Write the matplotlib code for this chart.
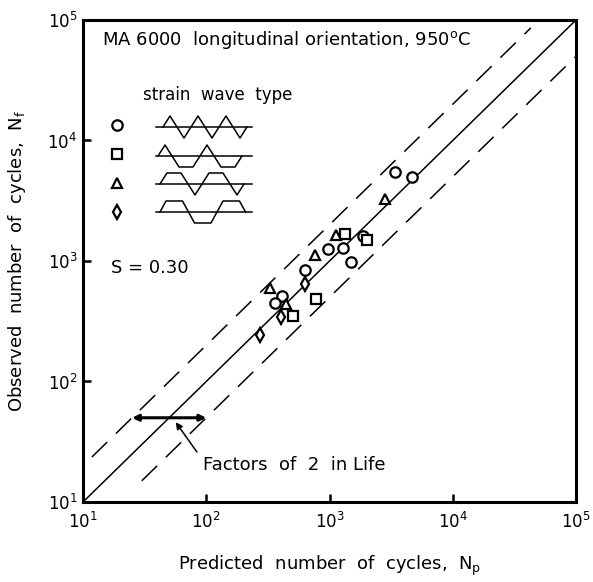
import matplotlib
matplotlib.use("Agg")
import matplotlib.pyplot as plt
import numpy as np

# ---------------- data ----------------
circle_np = [3400, 4700, 1860, 980, 1290, 1490, 630, 410, 360]
circle_nf = [5500, 4950, 1620, 1260, 1270, 990, 840, 510, 445]
square_np = [1340, 2030, 770, 510]
square_nf = [1670, 1490, 480, 350]
tri_np = [2820, 1130, 760, 330, 445]
tri_nf = [3250, 1640, 1120, 600, 440]
dia_np = [630, 405, 275]
dia_nf = [650, 345, 245]

x_range = [10, 1e5]
factor = 2
upper_span = [11.8, 43000]
lower_span = [30, 1e5]
tick_vals = [1e1, 1e2, 1e3, 1e4, 1e5]

title_text = "MA 6000  longitudinal orientation, 950$^\\mathrm{o}$C"
legend_title = "strain  wave  type"
s_text = "S = 0.30"
note_text = "Factors  of  2  in Life"
xlabel_text = "Predicted  number  of  cycles,  N$_\\mathrm{p}$"
ylabel_text = "Observed  number  of  cycles,  N$_\\mathrm{f}$"

plt.rcParams['font.family'] = ['DejaVu Sans']
plt.rcParams['mathtext.fontset'] = 'dejavusans'

W, H = 593, 582
fig = plt.figure(figsize=(W / 100, H / 100), dpi=100)
L, R, T, B = 83, 576, 20, 502
ax = fig.add_axes([L / W, (H - B) / H, (R - L) / W, (B - T) / H])
ax.set_xscale('log')
ax.set_yscale('log')
ax.set_xlim(x_range)
ax.set_ylim(x_range)
ax.set_xticks(tick_vals)
ax.set_yticks(tick_vals)
ax.minorticks_off()
ax.tick_params(which='major', direction='in', length=6, width=1.8,
               labelsize=12, top=False, right=False)
ax.tick_params(axis='x', pad=7)
ax.tick_params(axis='y', pad=4)
for sp in ax.spines.values():
    sp.set_linewidth(2.2)

# reference lines
xs = np.array(x_range)
ax.plot(xs, xs, color='k', lw=1.1, zorder=2)
ux = np.array(upper_span)
ax.plot(ux, ux * factor, color='k', lw=1.1, dashes=(14, 8), zorder=2)
lx = np.array(lower_span)
ax.plot(lx, lx / factor, color='k', lw=1.1, dashes=(14, 8), zorder=2)

mk = dict(linestyle='none', markerfacecolor='white', markeredgecolor='k',
          markeredgewidth=1.6, zorder=4, clip_on=False)
ax.plot(circle_np, circle_nf, marker='o', markersize=7.5, **mk)
ax.plot(square_np, square_nf, marker='s', markersize=7.0, **mk)
ax.plot(tri_np, tri_nf, marker='^', markersize=7.5, **mk)
ax.plot(dia_np, dia_nf, marker='d', markersize=6.8, **mk)


def px2ax(px, py):
    return (np.asarray(px) - L) / (R - L), (B - np.asarray(py)) / (B - T)


# legend: markers + wave shapes
leg_y = [125, 154, 183, 212]
leg_m = [('o', 7.5), ('s', 7.0), ('^', 7.5), ('d', 6.8)]
for (m, ms), yy in zip(leg_m, leg_y):
    a, b = px2ax(117, yy)
    ax.plot([a], [b], marker=m, markersize=ms, transform=ax.transAxes, **mk)


def build_wave(x0, segs, q, amp):
    # segs: list of (kind, n) kind 'r' ramp to level n, 'h' hold for n px
    pts = [(x0, 0.0)]
    x, lev = x0, 0.0
    for kind, v in segs:
        if kind == 'r':
            x += abs(v - lev) * q
            lev = v
        else:
            x += v
        pts.append((x, lev))
    return [p[0] for p in pts], [p[1] * amp for p in pts]


amp = 11
wave_defs = [
    (163, 7.0, [('r', 1), ('r', -1), ('r', 1), ('r', -1), ('r', 1), ('r', -1), ('r', 0)]),
    (158, 7.0, [('r', 1), ('r', -1), ('h', 14), ('r', 0),
                ('r', 1), ('r', -1), ('h', 14), ('r', 0)]),
    (160, 7.0, [('r', 1), ('h', 14), ('r', -1), ('r', 0),
                ('r', 1), ('h', 14), ('r', -1), ('r', 0)]),
    (160, 6.0, [('r', 1), ('h', 16.5), ('r', -1), ('h', 16.5), ('r', 1),
                ('h', 16.5), ('r', 0)]),
]
for (x0, q, segs), yc in zip(wave_defs, [127, 156, 184, 212]):
    wx, wy = build_wave(x0, segs, q, amp)
    a, b = px2ax(wx, yc - np.array(wy))
    ax.plot(a, b, color='k', lw=1.1, transform=ax.transAxes, zorder=3)
    a, b = px2ax([156, 252], [yc, yc])
    ax.plot(a, b, color='k', lw=1.1, transform=ax.transAxes, zorder=3)

# texts
a, b = px2ax(102, 40)
ax.text(a, b, title_text, transform=ax.transAxes, fontsize=13, ha='left', va='center')
a, b = px2ax(143, 95)
ax.text(a, b, legend_title, transform=ax.transAxes, fontsize=12, ha='left', va='center')
a, b = px2ax(111, 268)
ax.text(a, b, s_text, transform=ax.transAxes, fontsize=13, ha='left', va='center')

# factor-of-2 annotation
ax.annotate('', xy=(25, 50), xytext=(100, 50),
            arrowprops=dict(arrowstyle='<|-|>', color='k', lw=2.2,
                            mutation_scale=9, shrinkA=0, shrinkB=0))
ax.annotate('', xy=(56.5, 46), xytext=(84, 26),
            arrowprops=dict(arrowstyle='-|>', color='k', lw=1.1,
                            mutation_scale=10, shrinkA=0, shrinkB=0))
ax.text(94, 20.3, note_text, fontsize=13, ha='left', va='center')

ax.set_xlabel(xlabel_text, fontsize=13, labelpad=16)
ax.set_ylabel(ylabel_text, fontsize=13, labelpad=14)

fig.savefig('out.png', dpi=100)
